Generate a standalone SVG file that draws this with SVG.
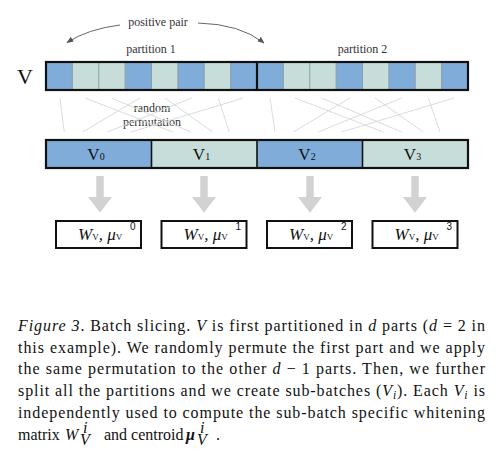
<svg xmlns="http://www.w3.org/2000/svg" width="496" height="460" viewBox="0 0 496 460">
<style>
.lbl{font-family:"Liberation Serif",serif;fill:#333;font-size:12px}
.cap{font-family:"Liberation Serif",serif;fill:#111;font-size:16px}
.it{font-style:italic}
.b{fill:#80acd9}
.l{fill:#c6ddd9}
.sep{stroke:#8a9ea3;stroke-width:1}
.frame{fill:none;stroke:#111;stroke-width:2.2}
.perm{stroke:#dcdcdc;stroke-width:1;fill:none}
.down{fill:#d2d2d2}
.curve{stroke:#666;stroke-width:1;fill:none}
.box{fill:#fff;stroke:#111;stroke-width:2}
.vl{font-family:"Liberation Serif",serif;fill:#111;font-size:17px}
.wl{font-family:"Liberation Serif",serif;fill:#111;font-size:17px;font-style:italic}
.sup{font-family:"Liberation Sans",sans-serif;fill:#111;font-size:10px}
</style>
<defs>
<marker id="ah" viewBox="0 0 10 10" refX="9" refY="5" markerWidth="7" markerHeight="7" orient="auto" markerUnits="userSpaceOnUse">
<path d="M0,1 L10,5 L0,9 z" fill="#555"/>
</marker>
</defs>

<text x="25" y="84" font-family="Liberation Serif,serif" font-size="22" fill="#111" text-anchor="middle">V</text>
<text class="lbl" x="158" y="26" text-anchor="middle">positive pair</text>
<text class="lbl" x="151" y="52.5" text-anchor="middle">partition 1</text>
<text class="lbl" x="362.5" y="52.5" text-anchor="middle">partition 2</text>
<text class="lbl" x="152" y="112" text-anchor="middle">random</text>
<text class="lbl" x="152" y="126" text-anchor="middle">permutation</text>

<g id="batch-V">
<rect class="b" x="46" y="62" width="26.375" height="28"/>
<rect class="l" x="72.375" y="62" width="26.375" height="28"/>
<rect class="l" x="98.75" y="62" width="26.375" height="28"/>
<rect class="b" x="125.125" y="62" width="26.375" height="28"/>
<rect class="l" x="151.5" y="62" width="26.375" height="28"/>
<rect class="b" x="177.875" y="62" width="26.375" height="28"/>
<rect class="l" x="204.25" y="62" width="26.375" height="28"/>
<rect class="b" x="230.625" y="62" width="26.375" height="28"/>
<rect class="b" x="257" y="62" width="26.375" height="28"/>
<rect class="l" x="283.375" y="62" width="26.375" height="28"/>
<rect class="l" x="309.75" y="62" width="26.375" height="28"/>
<rect class="b" x="336.125" y="62" width="26.375" height="28"/>
<rect class="l" x="362.5" y="62" width="26.375" height="28"/>
<rect class="b" x="388.875" y="62" width="26.375" height="28"/>
<rect class="l" x="415.25" y="62" width="26.375" height="28"/>
<rect class="b" x="441.625" y="62" width="26.375" height="28"/>
<path class="sep" d="M72.375,62V90M98.75,62V90M125.125,62V90M151.5,62V90M177.875,62V90M204.25,62V90M230.625,62V90M283.375,62V90M309.75,62V90M336.125,62V90M362.5,62V90M388.875,62V90M415.25,62V90M441.625,62V90"/>
<rect class="frame" x="46" y="62" width="422" height="28"/>
<line x1="257" y1="62" x2="257" y2="90" stroke="#111" stroke-width="2.2"/>
</g>

<g id="V0"><rect class="b" x="46" y="140" width="105.5" height="28"/><text class="vl" x="96" y="159.5" text-anchor="middle">V<tspan font-size="10">0</tspan></text></g>
<g id="V1"><rect class="l" x="151.5" y="140" width="105.5" height="28"/><text class="vl" x="201.5" y="159.5" text-anchor="middle">V<tspan font-size="10">1</tspan></text></g>
<g id="V2"><rect class="b" x="257" y="140" width="105.5" height="28"/><text class="vl" x="307" y="159.5" text-anchor="middle">V<tspan font-size="10">2</tspan></text></g>
<g id="V3"><rect class="l" x="362.5" y="140" width="105.5" height="28"/><text class="vl" x="412.5" y="159.5" text-anchor="middle">V<tspan font-size="10">3</tspan></text></g>
<g id="subbatch-frame">
<rect class="frame" x="46" y="140" width="422" height="28"/>
<path d="M151.5,140V168M257,140V168M362.5,140V168" stroke="#111" stroke-width="1.6"/>
</g>

<g id="connectors">
<path class="curve" d="M120,25 Q88,29 67,42.5" marker-end="url(#ah)"/>
<path class="curve" d="M198,23 Q240,24 264,43" marker-end="url(#ah)"/>
<g id="perm1" class="perm">
<line x1="60" y1="98" x2="64.3" y2="132"/>
<line x1="85" y1="98" x2="172.6" y2="132"/>
<line x1="111.7" y1="98" x2="191" y2="132"/>
<line x1="140" y1="98" x2="82.6" y2="132"/>
<line x1="165" y1="98" x2="212.6" y2="132"/>
<line x1="191.7" y1="98" x2="107.6" y2="132"/>
<line x1="218.3" y1="98" x2="229.3" y2="132"/>
<line x1="243.3" y1="98" x2="131" y2="132"/>
</g>
<g id="perm2" class="perm">
<line x1="270" y1="98" x2="275" y2="132"/>
<line x1="295" y1="98" x2="383.3" y2="132"/>
<line x1="321.7" y1="98" x2="401.7" y2="132"/>
<line x1="350" y1="98" x2="293.3" y2="132"/>
<line x1="375" y1="98" x2="423.3" y2="132"/>
<line x1="401.7" y1="98" x2="318.3" y2="132"/>
<line x1="428.3" y1="98" x2="440" y2="132"/>
<line x1="454" y1="98" x2="341.7" y2="132"/>
</g>
<path class="down" d="M96.3,176h7.4v21h8.3l-12,15.7l-12,-15.7h8.3z"/>
<path class="down" d="M200.3,176h7.4v21h8.3l-12,15.7l-12,-15.7h8.3z"/>
<path class="down" d="M306.3,176h7.4v21h8.3l-12,15.7l-12,-15.7h8.3z"/>
<path class="down" d="M411.3,176h7.4v21h8.3l-12,15.7l-12,-15.7h8.3z"/>
</g>

<g id="W0"><rect class="box" x="56" y="221" width="85" height="27"/><text class="wl" x="78" y="240">W<tspan font-size="9" font-style="normal">V</tspan>, μ<tspan font-size="9" font-style="normal">V</tspan></text><text class="sup" x="130" y="230">0</text></g>
<g id="W1"><rect class="box" x="161.5" y="221" width="85" height="27"/><text class="wl" x="183.5" y="240">W<tspan font-size="9" font-style="normal">V</tspan>, μ<tspan font-size="9" font-style="normal">V</tspan></text><text class="sup" x="235.5" y="230">1</text></g>
<g id="W2"><rect class="box" x="267" y="221" width="85" height="27"/><text class="wl" x="289" y="240">W<tspan font-size="9" font-style="normal">V</tspan>, μ<tspan font-size="9" font-style="normal">V</tspan></text><text class="sup" x="341" y="230">2</text></g>
<g id="W3"><rect class="box" x="372.5" y="221" width="85" height="27"/><text class="wl" x="394.5" y="240">W<tspan font-size="9" font-style="normal">V</tspan>, μ<tspan font-size="9" font-style="normal">V</tspan></text><text class="sup" x="446.5" y="230">3</text></g>

<g id="caption">
<text class="cap" x="18" y="331" textLength="467" lengthAdjust="spacing"><tspan class="it">Figure 3</tspan>. Batch slicing. <tspan class="it">V</tspan> is first partitioned in <tspan class="it">d</tspan> parts (<tspan class="it">d</tspan> = 2 in</text>
<text class="cap" x="18" y="352.7" textLength="467" lengthAdjust="spacing">this example). We randomly permute the first part and we apply</text>
<text class="cap" x="18" y="374.3" textLength="467" lengthAdjust="spacing">the same permutation to the other <tspan class="it">d</tspan> − 1 parts. Then, we further</text>
<text class="cap" x="18" y="396" textLength="467" lengthAdjust="spacing">split all the partitions and we create sub-batches (<tspan class="it">V</tspan><tspan class="it" font-size="11.5" dy="3">i</tspan><tspan dy="-3">). Each </tspan><tspan class="it">V</tspan><tspan class="it" font-size="11.5" dy="3">i</tspan><tspan dy="-3"> is</tspan></text>
<text class="cap" x="18" y="417.7" textLength="467" lengthAdjust="spacing">independently used to compute the sub-batch specific whitening</text>
<text class="cap" x="18" y="440">matrix</text>
<text class="cap it" x="65" y="440">W</text>
<text class="cap it" x="83" y="433" font-size="10">i</text>
<text class="cap it" x="80" y="444.5" font-size="10">V</text>
<text class="cap" x="104" y="440">and centroid</text>
<text class="cap it" x="186" y="440" font-weight="bold">μ</text>
<text class="cap it" x="200" y="433" font-size="10">i</text>
<text class="cap it" x="197" y="444.5" font-size="10">V</text>
<text class="cap" x="216" y="440">.</text>
</g>
</svg>
